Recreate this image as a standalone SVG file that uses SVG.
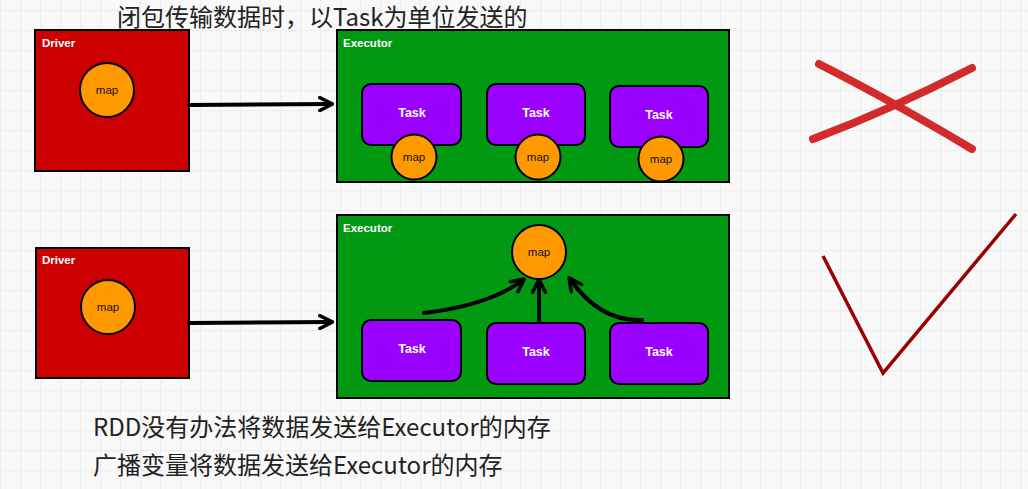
<svg xmlns="http://www.w3.org/2000/svg" width="1028" height="489" viewBox="0 0 1028 489">
<defs>
<pattern id="grid" width="20" height="20" patternUnits="userSpaceOnUse" x="0" y="10">
<rect width="20" height="20" fill="#f9f9f9"/>
<path d="M0 0.5H20M0.5 0V20" stroke="#eeeeee" stroke-width="1.5" fill="none"/>
</pattern>
<marker id="ah" viewBox="0 0 10 10" refX="8" refY="5" markerWidth="4" markerHeight="4" orient="auto" markerUnits="strokeWidth">
<path d="M1 1L9 5L1 9" fill="none" stroke="#000" stroke-width="2.2" stroke-linecap="round" stroke-linejoin="round"/>
</marker>
<style>
.drv{fill:#cc0000;stroke:#000;stroke-width:2}
.exe{fill:#009911;stroke:#000;stroke-width:2}
.task{fill:#9900ff;stroke:#000;stroke-width:2}
.map{fill:#ff9900;stroke:#000;stroke-width:2}
.lbl{font-family:"Liberation Sans",Arial,sans-serif;font-weight:bold;font-size:11.5px;fill:#fff}
.tl{font-family:"Liberation Sans",Arial,sans-serif;font-weight:bold;font-size:12.5px;fill:#fff;text-anchor:middle}
.ml{font-family:"Liberation Sans",Arial,sans-serif;font-size:11.5px;fill:#111;text-anchor:middle}
.cap{font-family:"Noto Sans CJK SC","Noto Sans",sans-serif;font-size:24px;fill:#222}
.conn{fill:none;stroke:#000;stroke-width:4;stroke-linecap:round;marker-end:url(#ah)}
</style>
</defs>
<rect width="1028" height="489" fill="url(#grid)"/>

<text class="cap" x="117" y="26">闭包传输数据时，以Task为单位发送的</text>

<g id="driver1">
<rect class="drv" x="35" y="30" width="154" height="141"/>
<text class="lbl" x="42" y="47">Driver</text>
</g>
<g id="map-d1">
<circle class="map" cx="107" cy="90" r="27"/>
<text class="ml" x="107" y="94">map</text>
</g>

<g id="executor1">
<rect class="exe" x="337" y="30" width="392" height="152"/>
<text class="lbl" x="343" y="47">Executor</text>
</g>
<g id="task1a"><rect class="task" x="362" y="84" width="99" height="61" rx="9"/><text class="tl" x="412" y="117">Task</text></g>
<g id="task1b"><rect class="task" x="487" y="84" width="98" height="61" rx="9"/><text class="tl" x="536" y="117">Task</text></g>
<g id="task1c"><rect class="task" x="610" y="86" width="98" height="61" rx="9"/><text class="tl" x="659" y="119">Task</text></g>
<g id="map1a"><circle class="map" cx="414" cy="157" r="22.5"/><text class="ml" x="414" y="161">map</text></g>
<g id="map1b"><circle class="map" cx="538" cy="157" r="22.5"/><text class="ml" x="538" y="161">map</text></g>
<g id="map1c"><circle class="map" cx="661" cy="159" r="22.5"/><text class="ml" x="661" y="163">map</text></g>

<g id="driver2">
<rect class="drv" x="36" y="248" width="153" height="130"/>
<text class="lbl" x="42" y="264">Driver</text>
</g>
<g id="map-d2">
<circle class="map" cx="108" cy="307" r="27"/>
<text class="ml" x="108" y="311">map</text>
</g>

<g id="executor2">
<rect class="exe" x="337" y="215" width="392" height="183"/>
<text class="lbl" x="343" y="232">Executor</text>
</g>
<g id="map2"><circle class="map" cx="539" cy="252" r="27"/><text class="ml" x="539" y="256">map</text></g>
<g id="task2a"><rect class="task" x="362" y="320" width="99" height="61" rx="9"/><text class="tl" x="412" y="353">Task</text></g>
<g id="task2b"><rect class="task" x="487" y="323" width="98" height="61" rx="9"/><text class="tl" x="536" y="356">Task</text></g>
<g id="task2c"><rect class="task" x="610" y="323" width="98" height="61" rx="9"/><text class="tl" x="659" y="356">Task</text></g>

<g id="connectors">
<path class="conn" d="M189 105L331 104"/>
<path class="conn" d="M189 323L331 322"/>
<path class="conn" d="M424 313Q490 305 523 280"/>
<path class="conn" d="M539 321L539 281"/>
<path class="conn" d="M642 320Q600 322 570 279"/>
</g>

<g id="cross" fill="none" stroke="#d22b2b" stroke-width="8" stroke-linecap="round">
<path d="M819 64Q890 100 972 149"/>
<path d="M813 139Q890 110 972 68"/>
</g>
<g id="check">
<path d="M823 256L883 373L1016 214" fill="none" stroke="#990000" stroke-width="3.5" stroke-linejoin="miter"/>
</g>

<text class="cap" x="93" y="436">RDD没有办法将数据发送给Executor的内存</text>
<text class="cap" x="93" y="474">广播变量将数据发送给Executor的内存</text>
</svg>
